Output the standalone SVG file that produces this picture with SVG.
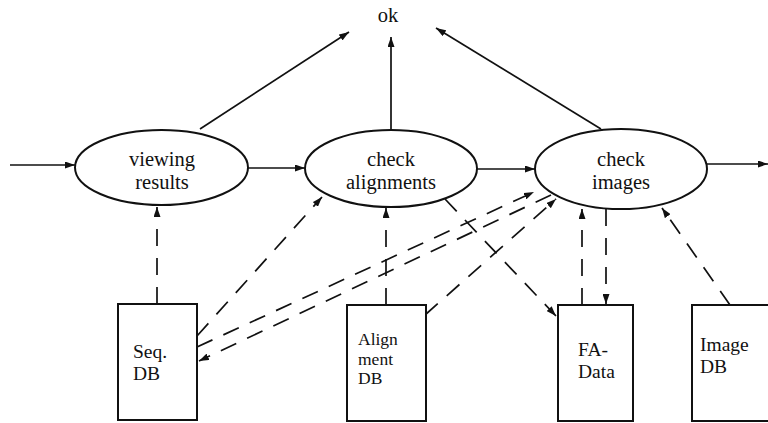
<svg xmlns="http://www.w3.org/2000/svg" width="768" height="423" viewBox="0 0 768 423">
  <style>
    .bg { fill: #ffffff; }
    .proc { fill: #ffffff; stroke: #111; stroke-width: 2; }
    .store { fill: #ffffff; stroke: #111; stroke-width: 2; }
    .flow { fill: none; stroke: #111; stroke-width: 1.7; marker-end: url(#head); }
    .data { fill: none; stroke: #111; stroke-width: 1.7; stroke-dasharray: 17 12; marker-end: url(#head); }
    .lbl { font-family: "Liberation Serif", "Times New Roman", serif; font-size: 20.5px; fill: #111; text-anchor: middle; }
    .blbl { font-family: "Liberation Serif", "Times New Roman", serif; font-size: 19.5px; fill: #111; }
    .tight { font-size: 17.5px; }
  </style>
  <defs>
    <marker id="head" markerUnits="userSpaceOnUse" markerWidth="10" markerHeight="7" refX="10" refY="3.5" orient="auto">
      <path d="M0,0 L10,3.5 L0,7 z" fill="#111"/>
    </marker>
  </defs>

  <rect class="bg" x="0" y="0" width="768" height="423"/>

  <!-- connectors -->
  <g id="connectors">
    <!-- control flow -->
    <path class="flow" d="M10,165 L75,165"/>
    <path class="flow" d="M248,168 L305,168"/>
    <path class="flow" d="M477,169 L535,169"/>
    <path class="flow" d="M707,164 L768,164"/>
    <path class="flow" d="M200,129 L349,32"/>
    <path class="flow" d="M391,130 L391,37"/>
    <path class="flow" d="M601,129 L436,28"/>
    <!-- data flow -->
    <path class="data" d="M157,304 L157,207"/>
    <path class="data" d="M197,336 L322,197"/>
    <path class="data" d="M197,347 L534,192"/>
    <path class="data" d="M551,195 L199,361"/>
    <path class="data" d="M386,305 L386,208"/>
    <path class="data" d="M425,315 L556,199"/>
    <path class="data" d="M445,199 L556,316"/>
    <path class="data" d="M582,305 L582,209"/>
    <path class="data" d="M606,209 L606,304"/>
    <path class="data" d="M730,305 L662,208"/>
  </g>

  <g id="ok">
    <text class="lbl" x="388" y="22">ok</text>
  </g>

  <g id="viewing-results">
    <ellipse class="proc" cx="161.5" cy="167.5" rx="86.5" ry="37.5"/>
    <text class="lbl" x="162" y="166">viewing</text>
    <text class="lbl" x="162" y="189">results</text>
  </g>

  <g id="check-alignments">
    <ellipse class="proc" cx="391" cy="168.5" rx="86" ry="38.5"/>
    <text class="lbl" x="391" y="166">check</text>
    <text class="lbl" x="391" y="189">alignments</text>
  </g>

  <g id="check-images">
    <ellipse class="proc" cx="621" cy="169" rx="86" ry="40"/>
    <text class="lbl" x="621" y="166">check</text>
    <text class="lbl" x="621" y="189">images</text>
  </g>

  <g id="seq-db">
    <rect class="store" x="118" y="304" width="79" height="116"/>
    <text class="blbl" x="133" y="358">Seq.</text>
    <text class="blbl" x="133" y="380">DB</text>
  </g>

  <g id="alignment-db">
    <rect class="store" x="347" y="305" width="79" height="116"/>
    <text class="blbl tight" x="358" y="345">Align</text>
    <text class="blbl tight" x="358" y="364.5">ment</text>
    <text class="blbl tight" x="358" y="384">DB</text>
  </g>

  <g id="fa-data">
    <rect class="store" x="558" y="305" width="75" height="116"/>
    <text class="blbl" x="578" y="356">FA-</text>
    <text class="blbl" x="578" y="378">Data</text>
  </g>

  <g id="image-db">
    <rect class="store" x="692" y="305" width="100" height="116"/>
    <text class="blbl" x="700" y="351">Image</text>
    <text class="blbl" x="700" y="373">DB</text>
  </g>
</svg>
